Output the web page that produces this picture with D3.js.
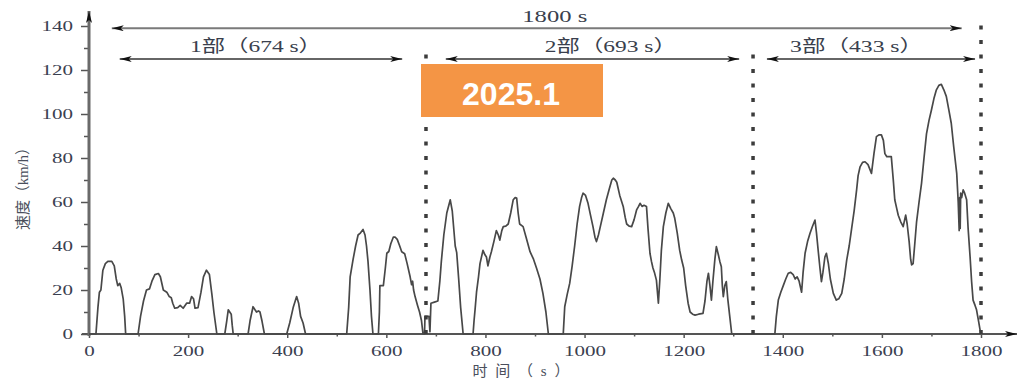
<!DOCTYPE html>
<html>
<head>
<meta charset="utf-8">
<script src="https://cdn.jsdelivr.net/npm/d3@7"></script>
<style>
  body { margin: 0; background: #fff; }
  svg { display: block; }
  .tick text { font-family: "Liberation Serif", serif; font-size: 15px; fill: #3a4050; }
  .tick line { stroke: #555; stroke-width: 1.5; }
</style>
</head>
<body>
<div class="chart"></div>
<script>
// speed profile (s, km/h)
const times = [
  0, 14, 18, 21, 24, 28, 33, 38, 46, 51, 55, 58, 62, 65, 69, 72, 74,
  99, 104, 110, 116, 122, 127, 133, 140, 144, 150, 157, 162, 166, 169, 173, 179, 184, 190, 197, 203, 207, 211, 214, 220, 226, 231, 237, 243, 248, 252, 258,
  274, 278, 281, 284, 287, 289, 291,
  321, 325, 331, 335, 338, 342, 345, 349, 354,
  399, 405, 412, 419, 423, 427, 432, 437,
  520, 524, 527, 533, 538, 543, 548, 553, 557, 560, 563, 567, 570, 573,
  584, 586, 587, 594, 598, 601, 605, 609, 614, 618, 622, 627, 631, 637, 642, 648, 651, 653, 655, 658, 663, 667, 671, 674, 677, 678, 686, 688, 690, 697, 704, 708, 711, 716, 722, 729, 733, 739, 742, 746, 750, 755,
  775, 777, 779, 782, 786, 789, 795, 799, 802, 805, 809, 812, 817, 822, 826, 829, 833, 836, 841, 846, 851, 856, 860, 863, 866, 869, 876, 882, 890, 897, 903, 910, 916, 922, 927,
  957, 960, 965, 970, 975, 980, 985, 990, 994, 997, 1002, 1007, 1012, 1017, 1021, 1024, 1028, 1031, 1038, 1044, 1050, 1055, 1058, 1062, 1065, 1071, 1078, 1082, 1085, 1090, 1095, 1100, 1105, 1109, 1112, 1116, 1120, 1125, 1128, 1132, 1135, 1138, 1141, 1145, 1149, 1152, 1155, 1159, 1164, 1169, 1174, 1179, 1182, 1187, 1192, 1196, 1200, 1204, 1209, 1213, 1218, 1223, 1230, 1239, 1243, 1247, 1250, 1253, 1256, 1259, 1263, 1266, 1270, 1273, 1276, 1278, 1280, 1283, 1286, 1289, 1293, 1297,
  1384, 1387, 1391, 1396, 1401, 1406, 1411, 1416, 1421, 1425, 1429, 1433, 1438, 1441, 1445, 1450, 1455, 1460, 1465, 1468, 1472, 1475, 1478, 1481, 1485, 1488, 1492, 1496, 1502, 1508, 1513, 1519, 1524, 1529, 1534, 1539, 1544, 1549, 1552, 1556, 1561, 1566, 1572, 1579, 1584, 1589, 1594, 1599, 1603, 1606, 1610, 1619, 1623, 1626, 1630, 1633, 1638, 1643, 1646, 1648, 1651, 1655, 1658, 1660, 1663, 1666, 1670, 1675, 1680, 1685, 1690, 1695, 1700, 1705, 1710, 1715, 1720, 1725, 1730, 1735, 1740, 1745, 1751, 1754, 1756, 1757, 1758, 1759, 1761, 1764, 1767, 1771, 1774, 1778, 1781, 1784, 1788, 1791, 1795, 1798, 1800
];
const speeds = [
  0, 0, 12, 19, 20, 29, 32, 33, 33, 31, 25, 22, 23, 21, 16, 8, 0,
  0, 8, 15, 20, 20.5, 24, 27, 27.5, 26, 20, 19, 17, 16.5, 14, 11.7, 12, 13, 11.7, 14, 14, 17, 16, 11.7, 12, 19, 26, 29, 27, 18, 10, 0,
  0, 6, 11, 10, 9, 4, 0,
  0, 6, 12.4, 11, 10, 10.5, 10, 6, 0,
  0, 5, 12, 17, 14, 8, 5, 0,
  0, 12, 26, 34, 40, 45, 46, 47.5, 45, 40, 33, 20, 8, 0,
  0, 10, 22, 22, 30, 36.7, 37.5, 41, 44, 44, 43, 40, 37.4, 36.5, 32, 26, 22.4, 24, 20, 17, 13, 10, 6, 0, 0, 8, 8, 1, 14, 14.5, 15, 24, 33, 45, 55, 61, 56, 40, 37, 25, 12, 0,
  0, 6, 11, 19, 26, 32, 38, 36, 35, 31, 35, 37.4, 42, 47, 45, 42.7, 47, 48.8, 49, 50, 55, 61, 62, 61.8, 55, 50, 48.8, 44, 37.4, 34, 30, 25, 18.5, 10, 0,
  0, 12.4, 18, 23, 31, 40, 50, 58, 62, 64, 63, 59.4, 54, 48.8, 44, 42, 45, 48, 55, 61, 66, 70, 70.8, 70, 69, 63, 58, 53, 50, 49, 48.8, 52, 56.4, 58, 59.4, 58, 58.5, 57.9, 48, 36.7, 33, 30, 28, 24.5, 14, 25, 38, 48.8, 55, 59.4, 57, 55, 52.6, 46, 38, 33.6, 30, 22, 14, 10, 9, 8.6, 9, 9.4, 15, 24, 27.6, 22, 15.4, 24, 34, 39.7, 36, 33, 30.6, 22, 17, 22, 23.8, 16, 8, 0,
  0, 8, 15.4, 19, 22, 25, 27.6, 28, 27, 25, 26, 24, 19, 28, 36.7, 42, 45.8, 49, 51.8, 46, 36.7, 30, 23.8, 28, 35, 36.7, 32, 25, 18.5, 15.4, 16, 18.5, 25, 33.6, 40, 48, 56, 65.5, 72, 76, 78, 78.3, 77, 73, 82, 89.7, 90.5, 90.5, 88, 82, 80.6, 80.6, 70, 61, 57, 54, 51, 48.8, 52, 54, 50, 42, 34, 31.4, 32, 40, 51, 60, 68.5, 80, 91, 97, 101.8, 107, 111, 113, 113.5, 111, 108, 102, 95.8, 85, 73, 60, 47, 62, 48, 64, 62, 65.5, 64, 61, 48, 35, 24, 15.4, 13, 11, 6, 2, 0
];

const xMajor = [0, 200, 400, 600, 800, 1000, 1200, 1400, 1600, 1800];
const xMinor = [100, 300, 500, 700, 900, 1100, 1300, 1500, 1700];
const yMajor = [0, 20, 40, 60, 80, 100, 120, 140];
const yMinor = [10, 30, 50, 70, 90, 110, 130];

// part boundaries (s) and the spans drawn above the curve
const dividers = [680, 1340, 1800];
const dividerTops = [129, 129, 143];
const spanStart = [46, 62, 720, 1368];
const spanEnd = [1761, 632, 1312, 1788];
const spanLevel = [139, 125, 125, 125];
const spanLabel = ["1800 s", "1部（674 s）", "2部（693 s）", "3部（433 s）"];
const spanLabelAt = [940, 337, 1053, 1549];

const xLabel = "时间（s）";
const yLabel = "速度（km/h）";
const stamp = "2025.1";

const W = 1019, H = 379;

const svg = d3.select(".chart").append("svg")
  .attr("width", W)
  .attr("height", H);

const x = d3.scaleLinear().domain([0, 1800]).range([89, 981]);
const y = d3.scaleLinear().domain([0, 140]).range([334, 26]);

const defs = svg.append("defs");
defs.append("marker")
  .attr("id", "head")
  .attr("viewBox", "0 0 12 6")
  .attr("refX", 12).attr("refY", 3)
  .attr("markerWidth", 12).attr("markerHeight", 6)
  .attr("markerUnits", "userSpaceOnUse")
  .attr("orient", "auto-start-reverse")
  .append("path")
  .attr("d", "M0,0L12,3L0,6L3,3Z")
  .attr("fill", "#111");

// stretch the serif digits to the wide look of the original
const digitW = 10.5;

// axes
const gx = svg.append("g").attr("transform", "translate(0,334)");
gx.call(d3.axisBottom(x).tickValues(xMajor).tickSize(4).tickPadding(7).tickFormat(d3.format("d")));
gx.append("g").call(d3.axisBottom(x).tickValues(xMinor).tickSize(2.5).tickFormat(""));
gx.selectAll(".domain").remove();

const gy = svg.append("g").attr("transform", "translate(89,0)");
gy.call(d3.axisLeft(y).tickValues(yMajor).tickSize(8).tickPadding(8).tickFormat(d3.format("d")));
gy.append("g").call(d3.axisLeft(y).tickValues(yMinor).tickSize(5).tickFormat(""));
gy.selectAll(".domain").remove();

svg.selectAll(".tick text")
  .filter(function () { return this.textContent.length > 0; })
  .attr("textLength", function () { return this.textContent.length * digitW; })
  .attr("lengthAdjust", "spacingAndGlyphs");

svg.append("line")
  .attr("x1", 82).attr("x2", 1017)
  .attr("y1", y(0)).attr("y2", y(0))
  .attr("stroke", "#555").attr("stroke-width", 2)
  .attr("marker-end", "url(#head)");

svg.append("line")
  .attr("x1", x(0)).attr("x2", x(0))
  .attr("y1", y(0) + 2).attr("y2", 11)
  .attr("stroke", "#6a6a6a").attr("stroke-width", 3)
  .attr("marker-end", "url(#head)");

// speed curve
const pts = times.map((t, i) => [t, speeds[i]]);
svg.append("path")
  .datum(pts)
  .attr("fill", "none")
  .attr("stroke", "#484848")
  .attr("stroke-width", 1.7)
  .attr("stroke-linejoin", "round")
  .attr("d", d3.line().x(d => x(d[0])).y(d => y(d[1])));

// dotted dividers
svg.selectAll(".divider")
  .data(dividers)
  .enter().append("line")
  .attr("class", "divider")
  .attr("x1", d => x(d)).attr("x2", d => x(d))
  .attr("y1", y(0)).attr("y2", (d, i) => y(dividerTops[i]))
  .attr("stroke", "#3c3c3c")
  .attr("stroke-width", 3.5)
  .attr("stroke-dasharray", "4,10.5");

// spans with arrows
spanStart.forEach((s, i) => {
  svg.append("line")
    .attr("x1", x(s)).attr("x2", x(spanEnd[i]))
    .attr("y1", y(spanLevel[i])).attr("y2", y(spanLevel[i]))
    .attr("stroke", i === 0 ? "#7a7a7a" : "#333")
    .attr("stroke-width", i === 0 ? 2 : 1.3)
    .attr("marker-start", "url(#head)")
    .attr("marker-end", "url(#head)");
});

const labelLen = [65, 132, 132, 133];
svg.selectAll(".span-label")
  .data(spanLabel)
  .enter().append("text")
  .attr("class", "span-label")
  .attr("x", (d, i) => x(spanLabelAt[i]))
  .attr("y", (d, i) => i === 0 ? 22 : 52)
  .attr("text-anchor", "middle")
  .attr("textLength", (d, i) => labelLen[i])
  .attr("lengthAdjust", "spacingAndGlyphs")
  .style("font-family", "'Liberation Serif', 'Noto Sans CJK SC', serif")
  .style("font-size", "17px")
  .style("fill", "#3a3f4d")
  .text(d => d);

// axis titles
svg.append("text")
  .attr("x", 521).attr("y", 376)
  .attr("text-anchor", "middle")
  .attr("textLength", 97)
  .attr("lengthAdjust", "spacing")
  .style("font-family", "'Liberation Serif', 'Noto Sans CJK SC', serif")
  .style("font-size", "15px")
  .style("fill", "#4a4f5c")
  .text(xLabel);

svg.append("text")
  .attr("transform", "translate(28,185) rotate(-90)")
  .attr("text-anchor", "middle")
  .attr("textLength", 90)
  .attr("lengthAdjust", "spacing")
  .style("font-family", "'Liberation Serif', 'Noto Sans CJK SC', serif")
  .style("font-size", "15px")
  .style("fill", "#4a4f5c")
  .text(yLabel);

// orange stamp
svg.append("rect")
  .attr("x", 421).attr("y", 64)
  .attr("width", 182).attr("height", 53)
  .attr("fill", "#f49545");

svg.append("text")
  .attr("x", 511).attr("y", 105)
  .attr("text-anchor", "middle")
  .style("font-family", "'Liberation Sans', Arial, sans-serif")
  .style("font-weight", "bold")
  .style("font-size", "32px")
  .style("fill", "#fff")
  .text(stamp);
</script>
</body>
</html>
